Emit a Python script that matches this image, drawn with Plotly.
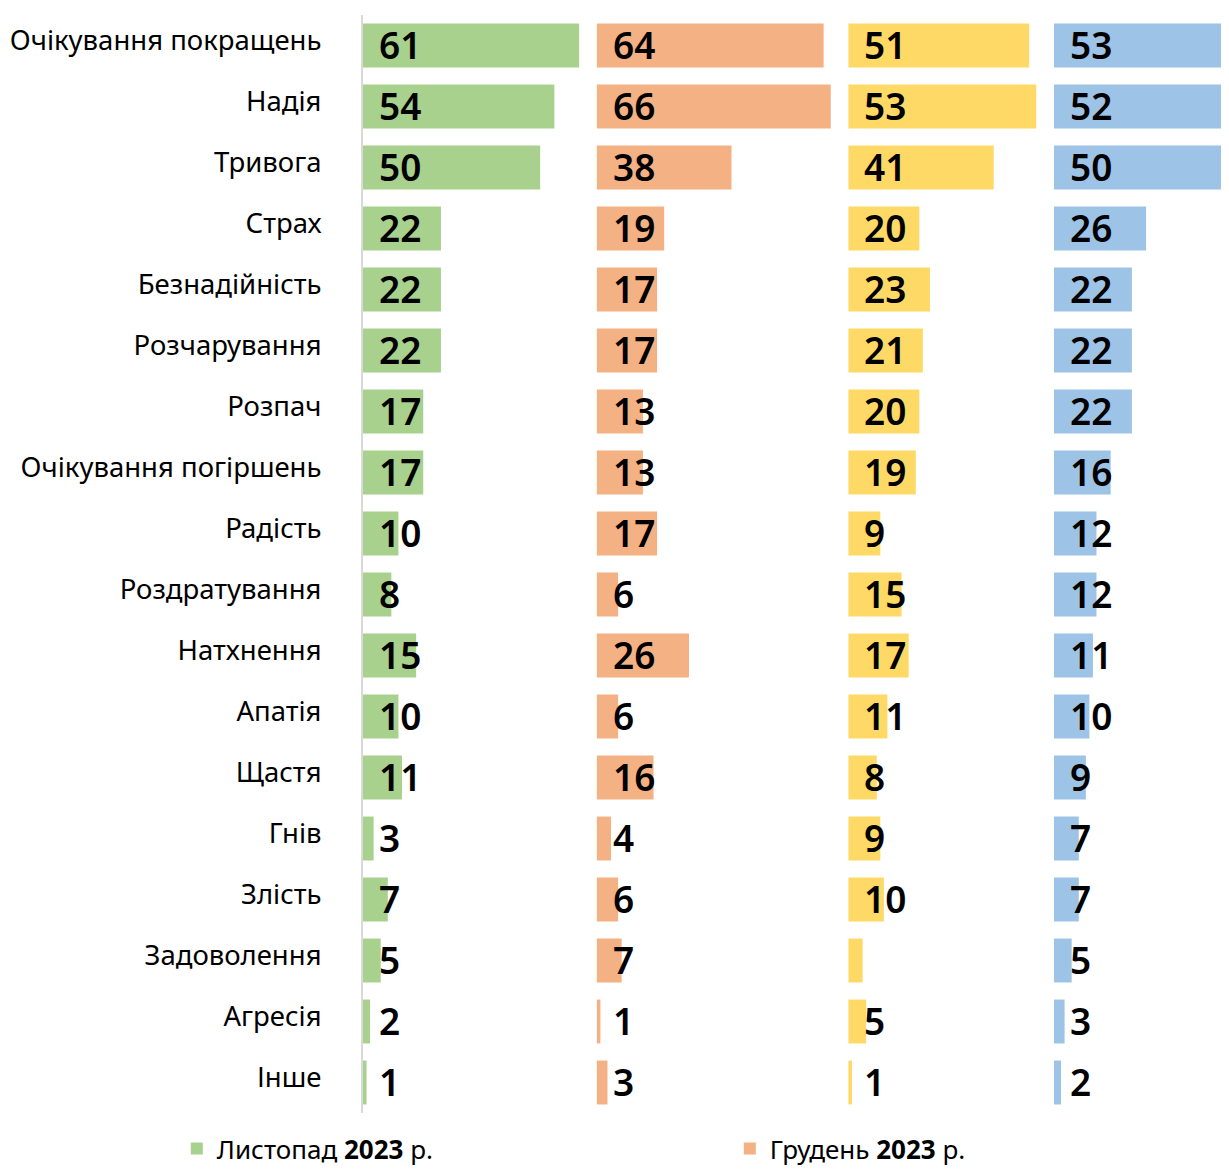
import plotly.graph_objects as go

categories = ["Очікування покращень", "Надія", "Тривога", "Страх", "Безнадійність",
              "Розчарування", "Розпач", "Очікування погіршень", "Радість", "Роздратування",
              "Натхнення", "Апатія", "Щастя", "Гнів", "Злість", "Задоволення", "Агресія", "Інше"]

nov_2023 = [61, 54, 50, 22, 22, 22, 17, 17, 10, 8, 15, 10, 11, 3, 7, 5, 2, 1]
dec_2023 = [64, 66, 38, 19, 17, 17, 13, 13, 17, 6, 26, 6, 16, 4, 6, 7, 1, 3]
series_3 = [51, 53, 41, 20, 23, 21, 20, 19, 9, 15, 17, 11, 8, 9, 10, 4, 5, 1]
series_4 = [53, 52, 50, 26, 22, 22, 22, 16, 12, 12, 11, 10, 9, 7, 7, 5, 3, 2]

# labels shown on bars (None = no label in the original)
labels_3 = [str(v) for v in series_3]
labels_3[categories.index("Задоволення")] = None

series_names = ["Листопад <b>2023</b> р.", "Грудень <b>2023</b> р.", "Серія 3", "Серія 4"]
series_values = [nov_2023, dec_2023, series_3, series_4]
series_labels = [[str(v) for v in nov_2023], [str(v) for v in dec_2023], labels_3,
                 [str(v) for v in series_4]]
colors = ["#A9D18E", "#F4B183", "#FFD966", "#9DC3E6"]
show_in_legend = [True, True, False, False]

GAP = 5
offsets = []
acc = 0
for vals in series_values:
    offsets.append(acc)
    acc += max(vals) + GAP

fig = go.Figure()
annotations = []
for name, vals, labs, col, off, sl in zip(series_names, series_values, series_labels,
                                          colors, offsets, show_in_legend):
    fig.add_trace(go.Bar(
        y=categories, x=vals, base=[off] * len(vals), orientation="h",
        name=name, marker=dict(color=col, line=dict(width=0)),
        showlegend=sl, hoverinfo="skip",
    ))
    for cat, lab in zip(categories, labs):
        if lab is None:
            continue
        annotations.append(dict(
            x=off, y=cat, xref="x", yref="y", text=lab, showarrow=False,
            xanchor="left", yanchor="middle", xshift=14, yshift=1,
            font=dict(family="Noto Sans", size=37, color="#000000", weight=600),
        ))

fig.update_layout(
    width=1221, height=1163,
    margin=dict(l=355, r=0, t=6.5, b=57.5, autoexpand=False),
    paper_bgcolor="white", plot_bgcolor="white",
    barmode="overlay", bargap=0.28,
    font=dict(family="Noto Sans", color="#000000"),
    xaxis=dict(range=[0, 244.4], visible=False, showgrid=False, zeroline=False),
    yaxis=dict(autorange="reversed", showline=True, linecolor="#D9D9D9", linewidth=2,
               ticks="", showgrid=False, zeroline=False, ticklabelstandoff=34,
               ticklabelshift=5,
               tickfont=dict(family="Noto Sans", size=27.5, color="#000000")),
    legend=dict(orientation="h", x=-0.215, y=-0.011, xanchor="left", yanchor="top",
                entrywidth=508, entrywidthmode="pixels",
                font=dict(family="Noto Sans", size=26, color="#000000")),
    annotations=annotations,
)

fig.write_html("out.html")
